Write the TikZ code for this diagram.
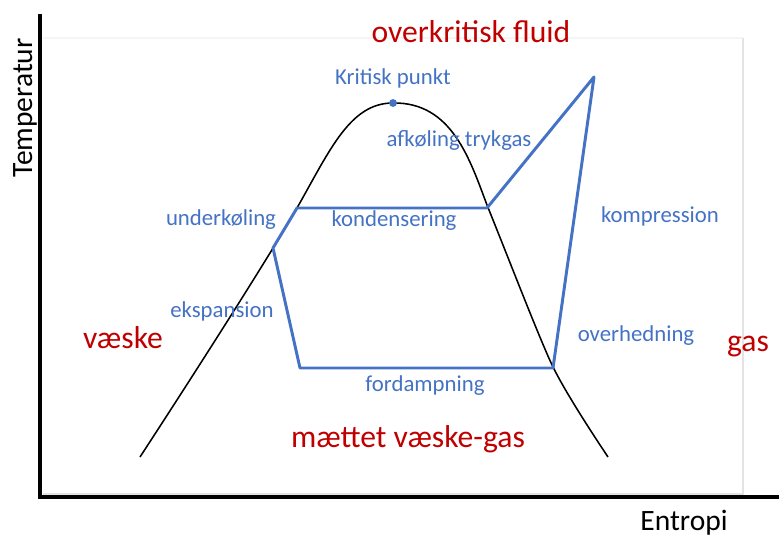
\documentclass[tikz,border=0pt]{standalone}
\usepackage{fontspec}
\setmainfont{Carlito}
\usepackage{tikz}
\usetikzlibrary{positioning}
\definecolor{cycleblue}{RGB}{68,114,196}
\definecolor{phasered}{RGB}{192,0,0}
\tikzset{cycle/.style = {cycleblue, line width=2.1pt, line join=round}}
\tikzset{proc/.style = {text=cycleblue, inner sep=0pt, font=\fontsize{16.2}{19}\selectfont}}
\tikzset{phase/.style = {text=phasered, inner sep=0pt, font=\fontsize{22.5}{26}\selectfont}}
\tikzset{axislabel/.style = {inner sep=0pt, font=\fontsize{21}{25}\selectfont}}

\begin{document}
\begin{tikzpicture}[x=0.025cm, y=-0.025cm]
		\useasboundingbox (0,0) rectangle (779,537);
		%draw plot frame and axes
		\draw[gray!8, line width=0.8pt] (43,38) -- (743,38);
		\draw[gray!22, line width=0.8pt] (743,38) -- (743,494) -- (43,494);
		\draw[line width=2.4pt] (40,14) -- (40,497) -- (779,497);
		\node[axislabel, rotate=90](T) at (25,108){Temperatur};
		\node[axislabel](S) at (684,523){Entropi};

		%draw saturation dome
		\draw[line width=1.1pt] (140,457) .. controls (200,365) and (270,255) .. (297,208)
			.. controls (330,150) and (350,103) .. (393,103)
			.. controls (452,102) and (470,160) .. (487,205)
			.. controls (510,262) and (540,340) .. (553,367)
			.. controls (566,393) and (590,430) .. (608,457);
		\fill[cycleblue] (393,103) circle[radius=2.8pt];
		\node[proc](K) at (393,78){Kritisk punkt};

		%cycle corners
		\coordinate (a) at (273,248);
		\coordinate (b) at (297,208);
		\coordinate (c) at (487,208);
		\coordinate (d) at (594,77);
		\coordinate (e) at (553,368);
		\coordinate (f) at (300,368);
		\draw[cycle] (a) -- (b) -- (c) -- (d) -- (e) -- (f) -- cycle;

		%process labels
		\node[proc](P1) at (459,140){afkøling trykgas};
		\node[proc](P2) at (221,220){underkøling};
		\node[proc](P3) at (394,221){kondensering};
		\node[proc](P4) at (660,216){kompression};
		\node[proc](P5) at (222,311){ekspansion};
		\node[proc](P6) at (636,336){overhedning};
		\node[proc](P7) at (425,386){fordampning};

		%phase labels
		\node[phase](L1) at (471,32){overkritisk fluid};
		\node[phase](L2) at (123,338){væske};
		\node[phase](L3) at (748,347){gas};
		\node[phase](L4) at (408,439){mættet væske-gas};
\end{tikzpicture}
\end{document}
